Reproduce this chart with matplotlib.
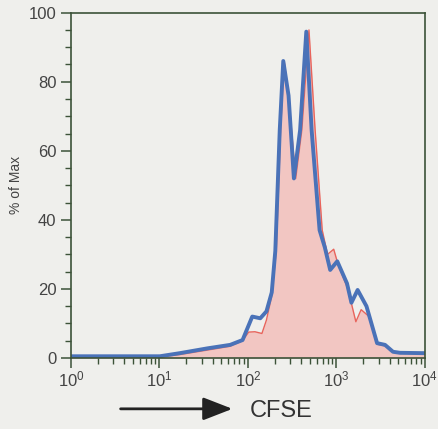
import matplotlib
matplotlib.use("Agg")
import matplotlib.pyplot as plt
from matplotlib.ticker import MultipleLocator, LogLocator, NullFormatter

plt.rcParams['font.family'] = ['Liberation Sans', 'DejaVu Sans']

# CFSE intensity vs % of max
blue_x = [1, 10.1, 17, 35, 63, 87, 112, 138, 162, 186, 204, 229, 251, 288, 331,
          389, 457, 525, 646, 741, 851, 1023, 1318, 1479, 1738, 2188, 2884,
          3548, 4365, 5248, 10000]
blue_y = [0.5, 0.5, 1.4, 2.8, 3.8, 5.2, 12, 11.5, 13.5, 19, 31, 66, 86, 76, 52,
          66, 94.5, 66, 37, 32, 25.5, 28, 21.6, 16, 19.7, 15, 4.3,
          3.8, 1.8, 1.5, 1.4]

red_x = [1, 10.1, 17, 35, 63, 87, 102, 120, 144, 162, 186, 209, 234, 257, 288,
         347, 407, 490, 575, 692, 794, 933, 1047, 1349, 1660, 1905, 2344, 2884,
         3548, 4365, 10000]
red_y = [0.3, 0.3, 1.0, 2.3, 3.4, 5, 7.5, 7.6, 7.1, 11, 18, 31, 66, 86, 76,
         52, 66, 95, 66, 37, 30, 31.5, 27, 20, 10.5, 14, 12, 4,
         3.5, 1.8, 1.3]

bg = '#efefec'
spine_c = '#3c5238'
text_c = '#444444'

fig = plt.figure(figsize=(4.38, 4.29), dpi=100, facecolor=bg)
ax = fig.add_axes([0.162, 0.1655, 0.808, 0.805], facecolor=bg)

ax.fill_between(red_x, red_y, 0, color='#f2c6c2', lw=0)
ax.plot(red_x, red_y, color='#e8645c', lw=1.0)
ax.plot(blue_x, blue_y, color='#4a72b8', lw=2.8)

ax.set_xscale('log')
ax.set_xlim(1, 1e4)
ax.set_ylim(0, 100)

ax.yaxis.set_major_locator(MultipleLocator(20))
ax.yaxis.set_minor_locator(MultipleLocator(5))
ax.xaxis.set_major_locator(LogLocator(base=10))
ax.xaxis.set_minor_locator(LogLocator(base=10, subs=range(2, 10)))
ax.xaxis.set_minor_formatter(NullFormatter())

for s in ax.spines.values():
    s.set_color(spine_c)
    s.set_linewidth(1.2)

ax.tick_params(which='major', length=7, width=1.1, color=spine_c,
               labelsize=12, labelcolor=text_c, direction='out')
ax.tick_params(axis='x', which='major', pad=1)
ax.tick_params(which='minor', length=4, width=1.0, color=spine_c, direction='out')

ax.set_ylabel('% of Max', fontsize=10, color=text_c, labelpad=4)

# arrow + CFSE label under the axis
ax.annotate('', xy=(0.537, 0.047), xytext=(0.269, 0.047),
            xycoords='figure fraction', textcoords='figure fraction',
            arrowprops=dict(arrowstyle='-|>,head_length=0.9,head_width=0.35',
                            color='#222222', lw=2, mutation_scale=20))
fig.text(0.571, 0.042, 'CFSE', fontsize=17, color='#333333', va='center')

fig.savefig('out.png', dpi=100, facecolor=bg)
